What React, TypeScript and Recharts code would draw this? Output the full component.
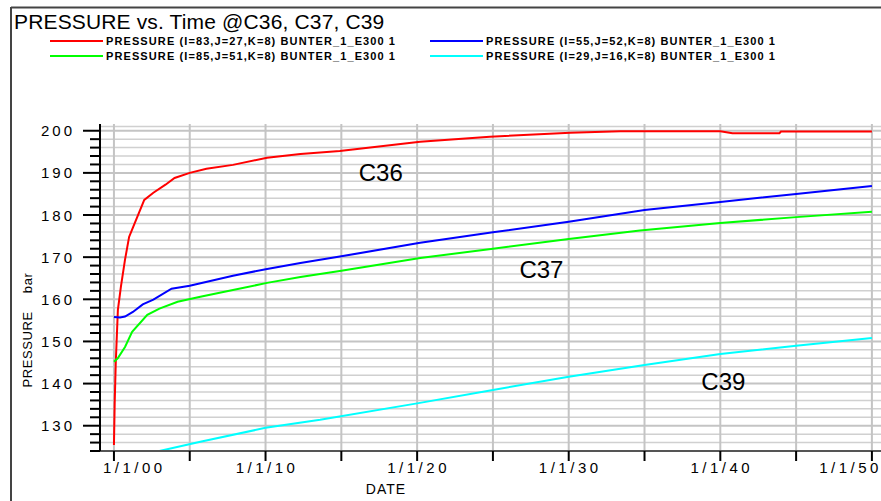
import React from "react";
import { CartesianGrid, Line, LineChart, ReferenceDot, XAxis, YAxis } from "recharts";

// time in years since 1/1/00, pressure in bar
const c36Years = [0, 0.05, 0.12, 0.26, 0.46, 0.73, 1.0, 1.25, 2.0, 2.6, 3.4, 4.0, 5.0, 6.1, 7.85, 10.1, 12.3, 14.9, 20.2, 24.8, 30.1, 33.4, 40.0, 40.8, 43.9, 44.0, 50.0];
const c36Pressure = [125.4, 135.5, 145, 157.5, 163, 169.4, 174.8, 177, 183.6, 185.3, 187.2, 188.8, 190, 191, 191.9, 193.6, 194.5, 195.2, 197.4, 198.6, 199.5, 199.9, 199.9, 199.4, 199.4, 199.8, 199.8];

const c37aYears = [0, 0.4, 0.73, 1.25, 1.9, 2.6, 3.8, 5, 7.85, 10.1, 12.3, 15, 20.2, 25, 30, 35, 40, 45, 50];
const c37aPressure = [155.8, 155.7, 155.9, 157, 158.8, 159.9, 162.5, 163.2, 165.6, 167.2, 168.6, 170.2, 173.4, 175.9, 178.4, 181.2, 183.1, 185, 186.9];

const c37bYears = [0, 0.25, 0.73, 1.2, 2.2, 3, 4.2, 5.7, 7.85, 10.1, 12.3, 15, 20.2, 25, 30, 34.7, 40, 45, 50];
const c37bPressure = [145.2, 146, 148.7, 152.3, 156.3, 157.8, 159.4, 160.6, 162.2, 163.9, 165.3, 166.8, 169.8, 172, 174.3, 176.3, 178.1, 179.5, 180.8];

const c39Years = [3, 5.7, 10, 13.6, 20, 25, 30, 35, 40, 45, 50];
const c39Pressure = [124, 126.2, 129.5, 131.4, 135.3, 138.5, 141.6, 144.4, 147, 149, 150.8];

const seriesNames = [
  "PRESSURE (I=83,J=27,K=8) BUNTER_1_E300 1",
  "PRESSURE (I=55,J=52,K=8) BUNTER_1_E300 1",
  "PRESSURE (I=85,J=51,K=8) BUNTER_1_E300 1",
  "PRESSURE (I=29,J=16,K=8) BUNTER_1_E300 1",
];
const seriesColors = ["#ff0000", "#0000ff", "#00ff00", "#00ffff"];

const xTicks = [0, 5, 10, 15, 20, 25, 30, 35, 40, 45, 50];
const xLabels: Record<number, string> = { 0: "1/1/00", 10: "1/1/10", 20: "1/1/20", 30: "1/1/30", 40: "1/1/40", 50: "1/1/50" };
const yTicks = [124, 126, 128, 130, 132, 134, 136, 138, 140, 142, 144, 146, 148, 150, 152, 154, 156, 158, 160, 162, 164, 166, 168, 170, 172, 174, 176, 178, 180, 182, 184, 186, 188, 190, 192, 194, 196, 198, 200];
const yMajor = [130, 140, 150, 160, 170, 180, 190, 200];
const gridMinor = [126, 128, 132, 134, 136, 138, 142, 144, 146, 148, 152, 154, 156, 158, 162, 164, 166, 168, 172, 174, 176, 178, 182, 184, 186, 188, 192, 194, 196, 198, 201];

const curveLabels = [
  { text: "C36", t: 17.6, p: 190 },
  { text: "C37", t: 28.2, p: 167 },
  { text: "C39", t: 40.2, p: 140.6 },
];

const toRows = (ts: number[], ps: number[]) => ts.map((t, i) => ({ t, p: ps[i] }));
const seriesData = [
  toRows(c36Years, c36Pressure),
  toRows(c37aYears, c37aPressure),
  toRows(c37bYears, c37bPressure),
  toRows(c39Years, c39Pressure),
];

const FONT = "'Liberation Sans', Arial, sans-serif";

const YTick = (props: any) => {
  const { x, y, payload } = props;
  const major = payload.value % 10 === 0;
  return (
    <g>
      <line x1={x - (major ? 17 : 10)} x2={x} y1={y} y2={y} stroke="#000" strokeWidth={2} />
      {major && (
        <text x={x - 25} y={y + 5.5} textAnchor="end" fontSize={15} letterSpacing={3} fill="#000" fontFamily={FONT}>
          {payload.value}
        </text>
      )}
    </g>
  );
};

const XTick = (props: any) => {
  const { x, y, payload } = props;
  const label = xLabels[payload.value];
  let anchor: "start" | "middle" | "end" = "middle";
  let tx = x + 1.5;
  if (payload.value === 0) {
    anchor = "start";
    tx = x - 11;
  } else if (payload.value === 50) {
    anchor = "end";
    tx = x + 10;
  }
  return (
    <g>
      <line x1={x} x2={x} y1={y} y2={y + 10} stroke="#000" strokeWidth={2} />
      {label && (
        <text x={tx} y={y + 22} textAnchor={anchor} fontSize={15} letterSpacing={3.5} fill="#000" fontFamily={FONT}>
          {label}
        </text>
      )}
    </g>
  );
};

export default function App() {
  return (
    <div style={{ position: "absolute", left: 0, top: 0, width: 881, height: 501, background: "#fff", fontFamily: FONT }}>
      <svg width={881} height={501} style={{ position: "absolute", left: 0, top: 0 }}>
        <line x1={11} y1={7.5} x2={881} y2={7.5} stroke="#444" strokeWidth={2} />
        <line x1={11} y1={7} x2={11} y2={501} stroke="#444" strokeWidth={2} />
        <text x={14} y={29} fontSize={21} letterSpacing={0.15} fill="#000" fontFamily={FONT}>
          PRESSURE vs. Time @C36, C37, C39
        </text>
        {seriesNames.map((name, i) => {
          const col = i % 2;
          const row = Math.floor(i / 2);
          const lx = col === 0 ? 50 : 430;
          const ly = row === 0 ? 41 : 56;
          return (
            <g key={name}>
              <line x1={lx} x2={lx + 53} y1={ly} y2={ly} stroke={seriesColors[i]} strokeWidth={2} />
              <text x={lx + 56} y={ly + 4} fontSize={11} fontWeight="bold" letterSpacing={1.1} fill="#000" fontFamily={FONT}>
                {name}
              </text>
            </g>
          );
        })}
        <text x={27} y={330} transform="rotate(-90 27 330)" textAnchor="middle" dominantBaseline="central" fontSize={13} letterSpacing={0.6} fill="#000" fontFamily={FONT}>
          PRESSURE
          <tspan dx={18}>bar</tspan>
        </text>
        <text x={386} y={494} textAnchor="middle" fontSize={14} letterSpacing={1} fill="#000" fontFamily={FONT}>
          DATE
        </text>
      </svg>
      <div style={{ position: "absolute", left: 0, top: 0 }}>
        <LineChart width={881} height={501} margin={{ top: 124, right: 0, bottom: 0, left: 0 }}>
          <CartesianGrid horizontalValues={gridMinor} verticalValues={[]} vertical={false} stroke="#d0d0d0" strokeWidth={1.5} />
          <CartesianGrid horizontalValues={yMajor} verticalValues={xTicks} stroke="#c4c4c4" strokeWidth={2} />
          <XAxis
            type="number"
            dataKey="t"
            domain={[-0.92, 50.6]}
            ticks={xTicks}
            interval={0}
            height={50}
            tickSize={0}
            tickMargin={0}
            tick={<XTick />}
            axisLine={{ stroke: "#555", strokeWidth: 2 }}
            allowDataOverflow
          />
          <YAxis
            type="number"
            dataKey="p"
            domain={[124, 201.6]}
            ticks={yTicks}
            interval={0}
            width={100}
            tickSize={0}
            tickMargin={0}
            tick={<YTick />}
            axisLine={{ stroke: "#000", strokeWidth: 2 }}
            allowDataOverflow
          />
          {seriesData.map((rows, i) => (
            <Line
              key={seriesNames[i] + i}
              data={rows}
              dataKey="p"
              type="linear"
              stroke={seriesColors[i]}
              strokeWidth={2}
              dot={false}
              isAnimationActive={false}
            />
          ))}
          {curveLabels.map((c) => (
            <ReferenceDot
              key={c.text}
              x={c.t}
              y={c.p}
              r={0}
              fill="none"
              stroke="none"
              label={{ value: c.text, position: "center", fontSize: 24, fill: "#000", fontFamily: FONT }}
            />
          ))}
        </LineChart>
      </div>
    </div>
  );
}
